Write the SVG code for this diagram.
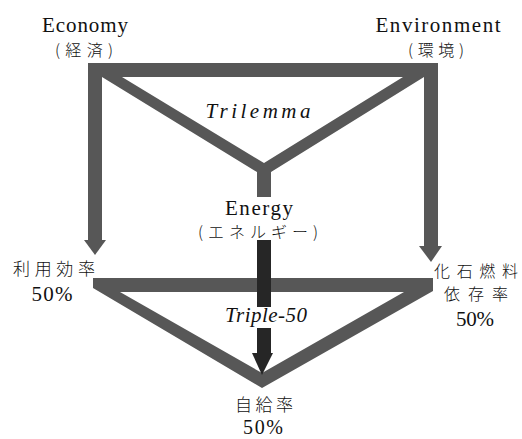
<svg xmlns="http://www.w3.org/2000/svg" width="522" height="439" viewBox="0 0 522 439">
<style>
.bar{fill:#575757}
.dark{fill:#262626}
.lat{fill:#111;text-anchor:middle}
.it{font-style:italic}
.jp{font-family:'Noto Sans CJK JP','Noto Sans CJK SC',sans-serif;fill:#111;text-anchor:middle;font-weight:300}
</style>
<rect width="522" height="439" fill="#fff"/>
<g id="connectors">
  <rect class="bar" x="88" y="63" width="350" height="14"/>
  <rect class="bar" x="88" y="63" width="14" height="178"/>
  <polygon class="bar" points="84,240 106,240 95,255"/>
  <rect class="bar" x="424" y="63" width="14" height="184"/>
  <polygon class="bar" points="419,246 442,246 431,262"/>
  <polygon class="bar" points="102,77 122,77 264,163 403,77 424,77 271,172 271,197 257,197 257,172"/>
  <path class="bar" fill-rule="evenodd" d="M93,278 L433,278 L433,291 L262,388 L93,288 Z M120,292 L404,292 L262,373 Z"/>
  <rect class="dark" x="257" y="240" width="14" height="67"/>
  <rect class="dark" x="257" y="328" width="14" height="26"/>
  <polygon class="dark" points="252,353 273,353 262,375"/>
</g>
<g id="economy">
  <text class="lat" font-family="Liberation Serif" x="85" y="32" font-size="21" textLength="86" lengthAdjust="spacing">Economy</text>
  <text class="jp" x="84" y="56" font-size="16" textLength="58" lengthAdjust="spacing">(経済)</text>
</g>
<g id="environment">
  <text class="lat" font-family="Liberation Serif" x="438" y="32" font-size="21" textLength="125" lengthAdjust="spacing">Environment</text>
  <text class="jp" x="436" y="56" font-size="16" textLength="56" lengthAdjust="spacing">(環境)</text>
</g>
<g id="trilemma">
  <text class="lat it" font-family="Liberation Serif" x="258" y="118" font-size="21" textLength="105" lengthAdjust="spacing">Trilemma</text>
</g>
<g id="energy">
  <text class="lat" font-family="Liberation Serif" x="259" y="215" font-size="21" textLength="68" lengthAdjust="spacing">Energy</text>
  <text class="jp" x="258" y="238" font-size="16" textLength="120" lengthAdjust="spacing">(エネルギー)</text>
</g>
<g id="triple50">
  <text class="lat it" font-family="Liberation Serif" x="266" y="322" font-size="21" textLength="82" lengthAdjust="spacing">Triple-50</text>
</g>
<g id="efficiency">
  <text class="jp" x="54" y="275" font-size="17" textLength="82" lengthAdjust="spacing">利用効率</text>
  <text class="lat" font-family="Liberation Serif" x="52" y="301" font-size="21" textLength="41" lengthAdjust="spacing">50%</text>
</g>
<g id="fossil">
  <text class="jp" font-size="16"><tspan x="476" y="277" textLength="84" lengthAdjust="spacing">化石燃料</tspan><tspan x="476" y="300" textLength="64" lengthAdjust="spacing">依存率</tspan></text>
  <text class="lat" font-family="Liberation Serif" x="475" y="326" font-size="21" textLength="38" lengthAdjust="spacing">50%</text>
</g>
<g id="selfsufficiency">
  <text class="jp" x="264" y="411" font-size="17" textLength="58" lengthAdjust="spacing">自給率</text>
  <text class="lat" font-family="Liberation Serif" x="263" y="434" font-size="20" textLength="40" lengthAdjust="spacing">50%</text>
</g>
</svg>
